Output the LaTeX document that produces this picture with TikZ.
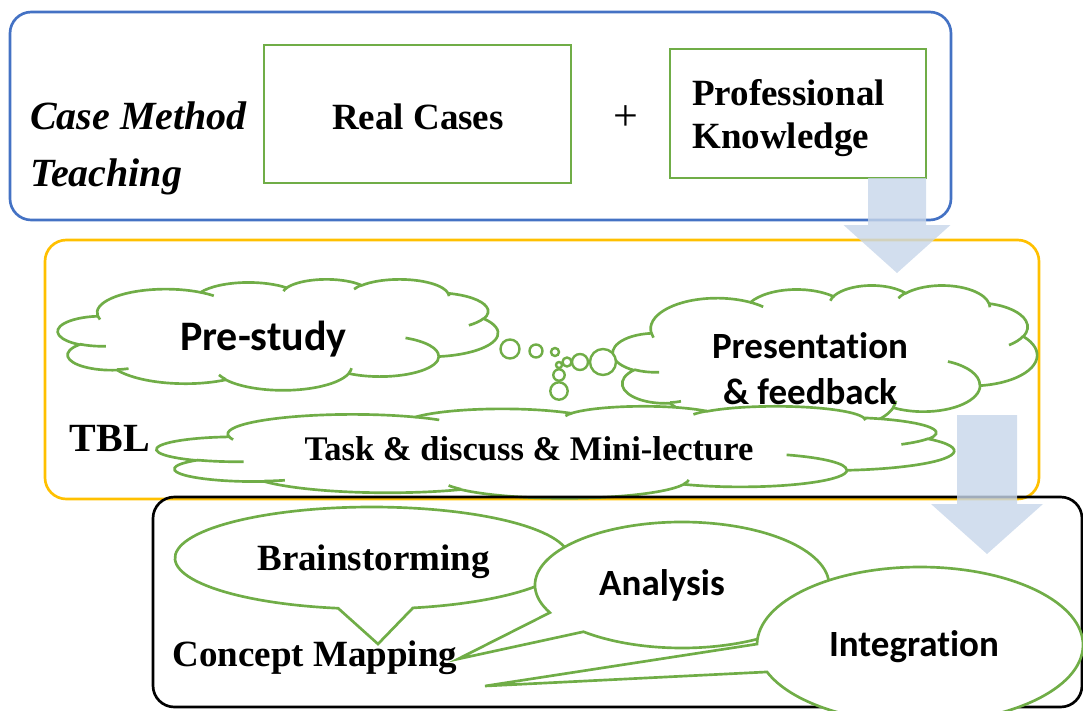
\documentclass[tikz,border=0pt]{standalone}
\usepackage{fontspec}
\setmainfont{Liberation Serif}
\newfontfamily\calibri[Ligatures=NoCommon]{Carlito}
\usetikzlibrary{calc}

\definecolor{frameblue}{HTML}{4472C4}
\definecolor{frameamber}{HTML}{FFC000}
\definecolor{leafgreen}{HTML}{70AD47}
\definecolor{arrowfill}{RGB}{199,214,234}

% one elliptical arcTo step: x radius, y radius, start angle, sweep (degrees)
\newcommand\ooarc[4]{%
  \pgfextra{%
    \pgfmathparse{atan2(#1*sin(#3),#2*cos(#3))}\xdef\arcA{\pgfmathresult}%
    \pgfmathparse{atan2(#1*sin(#3+#4),#2*cos(#3+#4))}\xdef\arcB{\pgfmathresult}%
    \pgfmathparse{Mod(\arcB-\arcA,360)}\xdef\arcD{\pgfmathresult}}%
  arc[x radius=#1, y radius=#2, start angle=\arcA, delta angle=\arcD]}

% cloud outline in a 4320 x 4320 frame: left, top, width, height (px)
\newcommand\ppcloud[4]{%
  \pgfmathsetmacro\cux{#3/4320*0.75}%
  \pgfmathsetmacro\cuy{#4/4320*0.75}%
  \begin{scope}[shift={(#1,#2)}, x=\cux pt, y=-\cuy pt]
    \draw[cloudline, fill=white] (390,1437)
      \ooarc{675.3}{919.0}{-190.4875}{123.7805}
      \ooarc{533.3}{726.7}{-144.1024}{89.9452}
      \ooarc{436.5}{594.5}{-145.8079}{99.7230}
      \ooarc{485.7}{659.5}{-130.9861}{117.2417}
      \ooarc{533.3}{727.3}{-78.7089}{109.0269}
      \ooarc{677.5}{922.0}{-46.2673}{130.2690}
      \ooarc{578.5}{786.7}{0.6250}{114.0333}
      \ooarc{675.2}{921.5}{22.4516}{115.1726}
      \ooarc{772.0}{1054.3}{66.2426}{75.7110}
      \ooarc{436.0}{591.8}{-274.9421}{146.7356}
      \ooarc{434.5}{594.5}{-246.8285}{152.5189}
      -- cycle;
    \draw[cloudline]
      (469.3,2617.7) \ooarc{434.5}{594.5}{86.7420}{26.4295}
      (692.8,3489.9) \ooarc{436.0}{591.8}{73.6105}{11.4475}
      (1647.8,3909.0) \ooarc{675.2}{921.5}{137.6242}{14.0811}
      (2882.7,3475.1) \ooarc{675.2}{921.5}{6.4533}{15.9984}
      (3412.9,2295.4) \ooarc{578.5}{786.7}{-70.2924}{70.9174}
      (4179.8,1535.4) \ooarc{533.3}{727.3}{30.3180}{27.7515}
      (3832.4,542.6) \ooarc{485.7}{659.5}{-13.7443}{14.8589}
      (2907.8,395.2) \ooarc{485.7}{659.5}{-149.1815}{18.1954}
      (2214.1,472.0) \ooarc{436.5}{594.5}{-163.4943}{17.6864}
      (1400.0,519.2) \ooarc{675.3}{919.0}{-66.7070}{12.3194}
      (412.7,1578.9) \ooarc{675.3}{919.0}{157.6544}{11.8582};
  \end{scope}}

\begin{document}
\begin{tikzpicture}[x=0.75pt, y=-0.75pt,
  frame/.style={line width=2pt, rounded corners=16pt},
  greenbox/.style={draw=leafgreen, line width=2.1pt},
  cloudline/.style={draw=leafgreen, line width=2pt},
  bubble/.style={draw=leafgreen, line width=1.8pt, fill=white},
  callout/.style={draw=leafgreen, line width=2pt, fill=white},
  blockarrow/.style={fill=arrowfill, fill opacity=0.8},
  timesbig/.style={inner sep=0pt, font=\fontsize{27.75}{32.25}\selectfont\bfseries},
  calbig/.style={inner sep=0pt, font=\calibri\fontsize{27.75}{32.25}\selectfont\bfseries},
]
\useasboundingbox (0,0) rectangle (1083,711);
\clip (0,0) rectangle (1083,711);

% ---- case method teaching ----
\draw[frame, draw=frameblue] (10,12) rectangle (951,220);
\draw[greenbox] (264,45) rectangle (571,183);
\draw[greenbox] (670,49) rectangle (926,178);
\node[inner sep=0pt, align=left, anchor=west,
      font=\fontsize{30}{42.75}\selectfont\bfseries\itshape] (cmt) at (30,148) {Case Method\\Teaching};
\node[timesbig] (real) at (418,117) {Real Cases};
\node[inner sep=0pt, font=\fontsize{33}{36}\selectfont] (plus) at (626,118) {+};
\node[timesbig, align=left, anchor=west] (prof) at (692,118.5) {Professional\\Knowledge};

% ---- TBL ----
\draw[frame, draw=frameamber] (45,240) rectangle (1039,499);
\node[inner sep=0pt, font=\fontsize{30}{36}\selectfont\bfseries] (tbl) at (110,438) {TBL};

\ppcloud{58}{279}{440}{111}
\foreach \cx/\cy/\r in {510/349/9.5, 536/351/6.5, 555/352/4}
  \draw[bubble] (\cx,\cy) circle[radius=\r];
\node[inner sep=0pt, font=\calibri\fontsize{31.5}{36}\selectfont\bfseries] (pre) at (263.5,339) {Pre-study};

\ppcloud{613}{285}{424}{144}
\foreach \cx/\cy/\r in {603/362/13, 580/362/8, 567/362/4.5}
  \draw[bubble] (\cx,\cy) circle[radius=\r];
\node[inner sep=0pt, align=center, font=\calibri\fontsize{27.75}{34.5}\selectfont\bfseries]
  (pres) at (810,369) {Presentation\\\& feedback};

\ppcloud{157}{406}{797}{92}
\foreach \cx/\cy/\r in {559/391/8.7, 559/375/5.7, 559/365/3}
  \draw[bubble] (\cx,\cy) circle[radius=\r];
\node[inner sep=0pt, font=\fontsize{25.9}{30}\selectfont\bfseries] (task) at (529,449) {Task \& discuss \& Mini-lecture};

% ---- concept mapping ----
\draw[frame, draw=black] (153,497) rectangle (1082,707);

\coordinate (bsC) at (372,558);
\coordinate (bsTip) at (378,644);
\draw[callout] ($(bsC)+(99.9:197 and 51)$)
  arc[start angle=99.9, end angle=438, x radius=197, y radius=51] -- (bsTip) -- cycle;

\coordinate (anC) at (682,585);
\coordinate (anTip) at (458,659);
\draw[callout] ($(anC)+(154:147 and 63)$)
  arc[start angle=154, end angle=492.1, x radius=147, y radius=63] -- (anTip) -- cycle;

\coordinate (inC) at (920,645);
\coordinate (inTip) at (485,686);
\draw[callout] ($(inC)+(180.7:163 and 78)$)
  arc[start angle=180.7, end angle=519.8, x radius=163, y radius=78] -- (inTip) -- cycle;

\node[timesbig] (brain) at (373.5,562) {Brainstorming};
\node[timesbig] (cmap) at (315,658) {Concept Mapping};
\node[calbig] (ana) at (662,585.5) {Analysis};
\node[calbig] (integ) at (914,646.5) {Integration};

% ---- block arrows ----
\fill[blockarrow] (868,178) -- (926,178) -- (926,225) -- (950.5,225) -- (897,273)
  -- (843.5,225) -- (868,225) -- cycle;
\fill[blockarrow] (957,415) -- (1017,415) -- (1017,504) -- (1043,504) -- (987,554)
  -- (931,504) -- (957,504) -- cycle;
\end{tikzpicture}
\end{document}
